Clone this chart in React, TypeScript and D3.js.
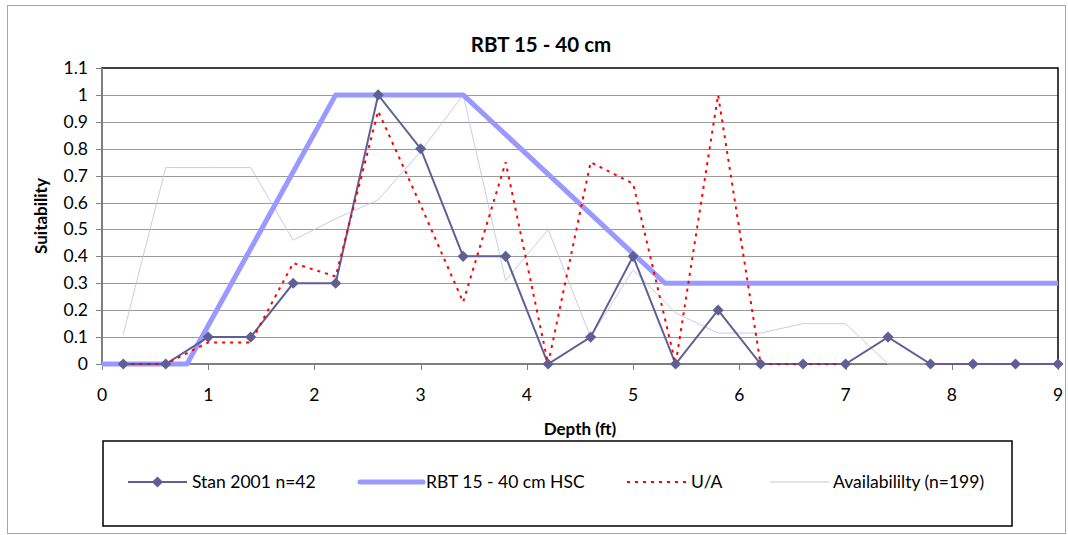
import React from "react";
import * as d3 from "d3";

const title = "RBT 15 - 40 cm";
const xTicks = [0, 1, 2, 3, 4, 5, 6, 7, 8, 9];
const yTicks = [0, 0.1, 0.2, 0.3, 0.4, 0.5, 0.6, 0.7, 0.8, 0.9, 1, 1.1];

const depths = [0.2, 0.6, 1.0, 1.4, 1.8, 2.2, 2.6, 3.0, 3.4, 3.8, 4.2, 4.6, 5.0, 5.4, 5.8, 6.2, 6.6, 7.0, 7.4, 7.8, 8.2, 8.6, 9.0];
const stan = [0, 0, 0.1, 0.1, 0.3, 0.3, 1, 0.8, 0.4, 0.4, 0, 0.1, 0.4, 0, 0.2, 0, 0, 0, 0.1, 0, 0, 0, 0];
const ua = [0, 0, 0.08, 0.08, 0.375, 0.325, 0.94, 0.59, 0.23, 0.75, 0, 0.75, 0.67, 0, 1.0, 0, 0, 0];
const avail = [0.11, 0.73, 0.73, 0.73, 0.46, 0.54, 0.61, 0.79, 1.0, 0.31, 0.5, 0.1, 0.35, 0.19, 0.115, 0.115, 0.15, 0.15, 0, 0, 0, 0, 0];
const hscX = [0, 0.8, 2.2, 3.4, 5.3, 9];
const hscY = [0, 0, 1, 1, 0.3, 0.3];

const legendNames = ["Stan 2001 n=42", "RBT 15 - 40 cm HSC", "U/A", "Availabililty (n=199)"];

const C_STAN = "#5f5f96";
const C_HSC = "#9999ff";
const C_UA = "#ff0000";
const C_AV = "#c4c4e6";
const FONT = "Lato, 'Open Sans', sans-serif";

export default function App() {
  const left = 102, right = 1058, top = 68, bottom = 364;
  const x = d3.scaleLinear().domain([0, 9]).range([left, right]);
  const y = d3.scaleLinear().domain([0, 1.1]).range([bottom, top]);
  const line = d3.line<[number, number]>().x((d) => x(d[0])).y((d) => y(d[1]));

  const stanPts = depths.map((d, i) => [d, stan[i]] as [number, number]);
  const uaPts = ua.map((v, i) => [depths[i], v] as [number, number]);
  const avPts = avail.map((v, i) => [depths[i], v] as [number, number]);
  const hscPts = hscX.map((d, i) => [d, hscY[i]] as [number, number]);
  const diamond = d3.symbol().type(d3.symbolSquare).size(62)()!;

  const legY = 482;
  const legItems = [
    { x0: 128, x1: 187, tx: 192 },
    { x0: 360, x1: 423, tx: 426 },
    { x0: 627, x1: 687, tx: 691 },
    { x0: 770, x1: 829, tx: 833 },
  ];

  return (
    <svg width={1068} height={535} style={{ position: "absolute", left: 0, top: 0, background: "#fff" }} fontFamily={FONT}>
      <rect x={7.5} y={5.5} width={1058} height={528} fill="#fff" stroke="#a6a6a6" strokeWidth={1} />
      <text x={541} y={52} textAnchor="middle" fontWeight="bold" fontSize={20.5} fill="#000">{title}</text>

      {yTicks.filter((t) => t > 0 && t < 1.05).map((t) => (
        <line key={"g" + t} x1={left} x2={right} y1={Math.round(y(t)) + 0.5} y2={Math.round(y(t)) + 0.5} stroke="#9a9a9a" strokeWidth={1} />
      ))}
      <rect x={left} y={top} width={right - left} height={bottom - top} fill="none" stroke="#000" strokeWidth={1.5} />
      <line x1={left} x2={left} y1={top} y2={bottom} stroke="#7f7f7f" strokeWidth={2} />
      <line x1={left} x2={right} y1={bottom} y2={bottom} stroke="#7f7f7f" strokeWidth={2} />

      {yTicks.map((t) => (
        <g key={"y" + t}>
          <line x1={96} x2={left} y1={Math.round(y(t)) + 0.5} y2={Math.round(y(t)) + 0.5} stroke="#7f7f7f" />
          <text x={88} y={y(t) + 6} textAnchor="end" fontSize={17.5} fill="#000">{String(t)}</text>
        </g>
      ))}
      {xTicks.map((t) => (
        <g key={"x" + t}>
          <line x1={Math.round(x(t)) + 0.5} x2={Math.round(x(t)) + 0.5} y1={bottom} y2={bottom + 6} stroke="#7f7f7f" />
          <text x={x(t)} y={401} textAnchor="middle" fontSize={17.5} fill="#000">{String(t)}</text>
        </g>
      ))}
      <text x={580} y={435} textAnchor="middle" fontWeight="bold" fontSize={17} fill="#000">Depth (ft)</text>
      <text transform={`translate(47,216) rotate(-90)`} textAnchor="middle" fontWeight="bold" fontSize={17} fill="#000">Suitability</text>

      <path d={line(avPts)!} fill="none" stroke={C_AV} strokeWidth={0.9} />
      <path d={line(hscPts)!} fill="none" stroke={C_HSC} strokeWidth={5} strokeLinejoin="round" />
      <path d={line(stanPts)!} fill="none" stroke={C_STAN} strokeWidth={2} />
      <path d={line(uaPts)!} fill="none" stroke={C_UA} strokeWidth={2} strokeDasharray="3,5" />
      {stanPts.map((p, i) => (
        <path key={"m" + i} d={diamond} transform={`translate(${x(p[0])},${y(p[1])}) rotate(45)`} fill={C_STAN} />
      ))}

      <rect x={103} y={441} width={909} height={85} fill="#fff" stroke="#000" strokeWidth={1.5} />
      <line x1={legItems[0].x0} x2={legItems[0].x1} y1={legY} y2={legY} stroke={C_STAN} strokeWidth={2} />
      <path d={diamond} transform={`translate(${(legItems[0].x0 + legItems[0].x1) / 2},${legY}) rotate(45)`} fill={C_STAN} />
      <line x1={legItems[1].x0} x2={legItems[1].x1} y1={legY} y2={legY} stroke={C_HSC} strokeWidth={5} strokeLinecap="round" />
      <line x1={legItems[2].x0} x2={legItems[2].x1} y1={legY} y2={legY} stroke={C_UA} strokeWidth={2} strokeDasharray="3,5" />
      <line x1={legItems[3].x0} x2={legItems[3].x1} y1={legY} y2={legY} stroke={C_AV} strokeWidth={1} />
      {legendNames.map((n, i) => (
        <text key={n} x={legItems[i].tx} y={legY + 6} fontSize={17.5} fill="#000">{n}</text>
      ))}
    </svg>
  );
}
